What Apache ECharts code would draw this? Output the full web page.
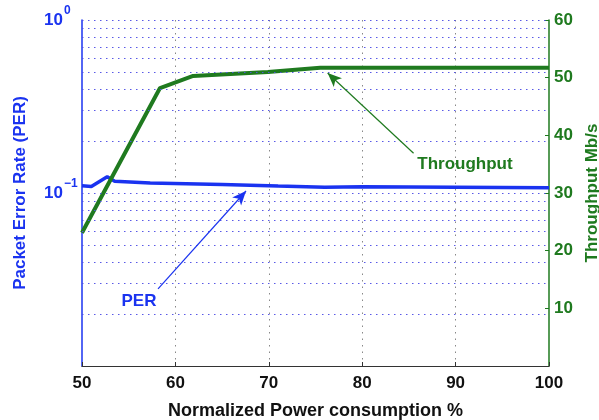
<!DOCTYPE html>
<html>
<head>
<meta charset="utf-8">
<script src="https://cdn.jsdelivr.net/npm/echarts@6/dist/echarts.min.js"></script>
<style>
  html, body { margin: 0; padding: 0; background: #fff; overflow: hidden; width: 599px; height: 420px; }
  #chart { width: 599px; height: 420px; }
</style>
</head>
<body>
<div id="chart"></div>
<script>
// Normalized power consumption (%) sample points for each curve
const perPower = [50, 51.0, 52.7, 53.5, 57.3, 65, 71, 76, 80, 100];
const perValues = [0.110, 0.109, 0.124, 0.117, 0.1144, 0.112, 0.1097, 0.108, 0.1087, 0.1071];

const thrPower = [50, 58.35, 61.9, 69.9, 75.5, 100];
const thrValues = [23.1, 48.2, 50.3, 51.0, 51.7, 51.7];

// Minor log gridlines on the PER axis
const perGridValues = [0.02, 0.03, 0.04, 0.05, 0.06, 0.07, 0.08, 0.09, 0.1,
                       0.2, 0.3, 0.4, 0.5, 0.6, 0.7, 0.8, 0.9, 1];

// Annotation arrows: [tail, head] in data coordinates
const perArrow = [[58.14, 0.0279], [67.56, 0.1027]];
const thrArrow = [[85.5, 36.9], [76.3, 50.8]];
const perLabelAt = [56.1, 0.0238];
const thrLabelAt = [91.0, 35.0];

const BLUE = '#1a33f0';
const GREEN = '#1f7a1f';
const FONT = '"Liberation Sans", Arial, Helvetica, sans-serif';

const chart = echarts.init(document.getElementById('chart'), null, { width: 599, height: 420 });

chart.setOption({
  animation: false,
  backgroundColor: '#ffffff',
  grid: { left: 82, right: 50, top: 20, bottom: 54, containLabel: false, outerBoundsMode: 'none' },
  xAxis: {
    type: 'value',
    min: 50, max: 100, interval: 10,
    name: 'Normalized Power consumption %',
    nameLocation: 'middle',
    nameGap: 36,
    nameTextStyle: { fontFamily: FONT, fontWeight: 'bold', fontSize: 18, color: '#111' },
    axisLine: { show: true, lineStyle: { color: '#333', width: 1.2 } },
    axisTick: { show: true, inside: true, length: 4, lineStyle: { color: '#333' } },
    axisLabel: { fontFamily: FONT, fontWeight: 'bold', fontSize: 17, color: '#111', margin: 9 },
    splitLine: {
      show: true, showMinLine: false, showMaxLine: false,
      lineStyle: { color: '#888', width: 1, type: [1.5, 5] }
    }
  },
  yAxis: [
    {
      type: 'log', logBase: 10,
      min: 0.01, max: 1,
      position: 'left',
      name: 'Packet Error Rate (PER)',
      nameLocation: 'middle',
      nameGap: 53,
      nameRotate: 90,
      nameTextStyle: { fontFamily: FONT, fontWeight: 'bold', fontSize: 17, color: BLUE },
      axisLine: { show: true, lineStyle: { color: BLUE, width: 1.5 } },
      axisTick: { show: false },
      splitLine: { show: false },
      axisLabel: {
        align: 'left',
        margin: 38,
        formatter: function (v) {
          if (Math.abs(v - 1) < 1e-9) return '{b|10}{s|0}';
          if (Math.abs(v - 0.1) < 1e-9) return '{b|10}{s|\u22121}';
          return '';
        },
        rich: {
          b: { fontFamily: FONT, fontWeight: 'bold', fontSize: 17, color: BLUE },
          s: { fontFamily: FONT, fontWeight: 'bold', fontSize: 12, color: BLUE, padding: [0, 0, 18, 1] }
        }
      }
    },
    {
      type: 'value',
      min: 0, max: 60, interval: 10,
      position: 'right',
      name: 'Throughput Mb/s',
      nameLocation: 'middle',
      nameGap: 33,
      nameRotate: 90,
      nameTextStyle: { fontFamily: FONT, fontWeight: 'bold', fontSize: 17, color: GREEN },
      axisLine: { show: true, lineStyle: { color: GREEN, width: 1.5 } },
      axisTick: { show: true, inside: true, length: 4, lineStyle: { color: GREEN } },
      splitLine: { show: false },
      axisLabel: {
        showMinLabel: false,
        fontFamily: FONT, fontWeight: 'bold', fontSize: 17, color: GREEN, margin: 5,
        formatter: function (v) { return v === 0 ? '' : String(v); }
      }
    }
  ],
  series: [
    {
      // log-scale gridlines for the PER axis
      name: 'grid',
      type: 'line',
      yAxisIndex: 0,
      data: [],
      silent: true,
      z: 1,
      markLine: {
        silent: true,
        symbol: ['none', 'none'],
        label: { show: false },
        lineStyle: { color: '#5050e6', width: 1, type: [1.5, 4.5], opacity: 0.95 },
        data: perGridValues.map(v => ({ yAxis: v }))
      }
    },
    {
      name: 'PER',
      type: 'line',
      yAxisIndex: 0,
      showSymbol: false,
      symbol: 'none',
      z: 3,
      lineStyle: { color: BLUE, width: 3.5 },
      itemStyle: { color: BLUE },
      data: perPower.map((x, i) => [x, perValues[i]]),
      markLine: {
        silent: true,
        symbol: ['none', 'arrow'],
        symbolSize: [9, 14],
        label: { show: false },
        lineStyle: { color: BLUE, width: 1.2, type: 'solid' },
        data: [[{ coord: perArrow[0] }, { coord: perArrow[1] }]]
      },
      markPoint: {
        silent: true,
        symbol: 'circle',
        symbolSize: 1,
        itemStyle: { color: 'rgba(0,0,0,0)' },
        label: {
          show: true, position: 'inside',
          fontFamily: FONT, fontWeight: 'bold', fontSize: 17, color: BLUE,
          formatter: 'PER'
        },
        data: [{ coord: perLabelAt }]
      }
    },
    {
      name: 'Throughput',
      type: 'line',
      yAxisIndex: 1,
      showSymbol: false,
      symbol: 'none',
      z: 4,
      lineStyle: { color: GREEN, width: 4 },
      itemStyle: { color: GREEN },
      data: thrPower.map((x, i) => [x, thrValues[i]]),
      markLine: {
        silent: true,
        symbol: ['none', 'arrow'],
        symbolSize: [9, 14],
        label: { show: false },
        lineStyle: { color: GREEN, width: 1.2, type: 'solid' },
        data: [[{ coord: thrArrow[0] }, { coord: thrArrow[1] }]]
      },
      markPoint: {
        silent: true,
        symbol: 'circle',
        symbolSize: 1,
        itemStyle: { color: 'rgba(0,0,0,0)' },
        label: {
          show: true, position: 'inside',
          fontFamily: FONT, fontWeight: 'bold', fontSize: 17, color: GREEN,
          formatter: 'Throughput'
        },
        data: [{ coord: thrLabelAt }]
      }
    }
  ]
});
</script>
</body>
</html>
